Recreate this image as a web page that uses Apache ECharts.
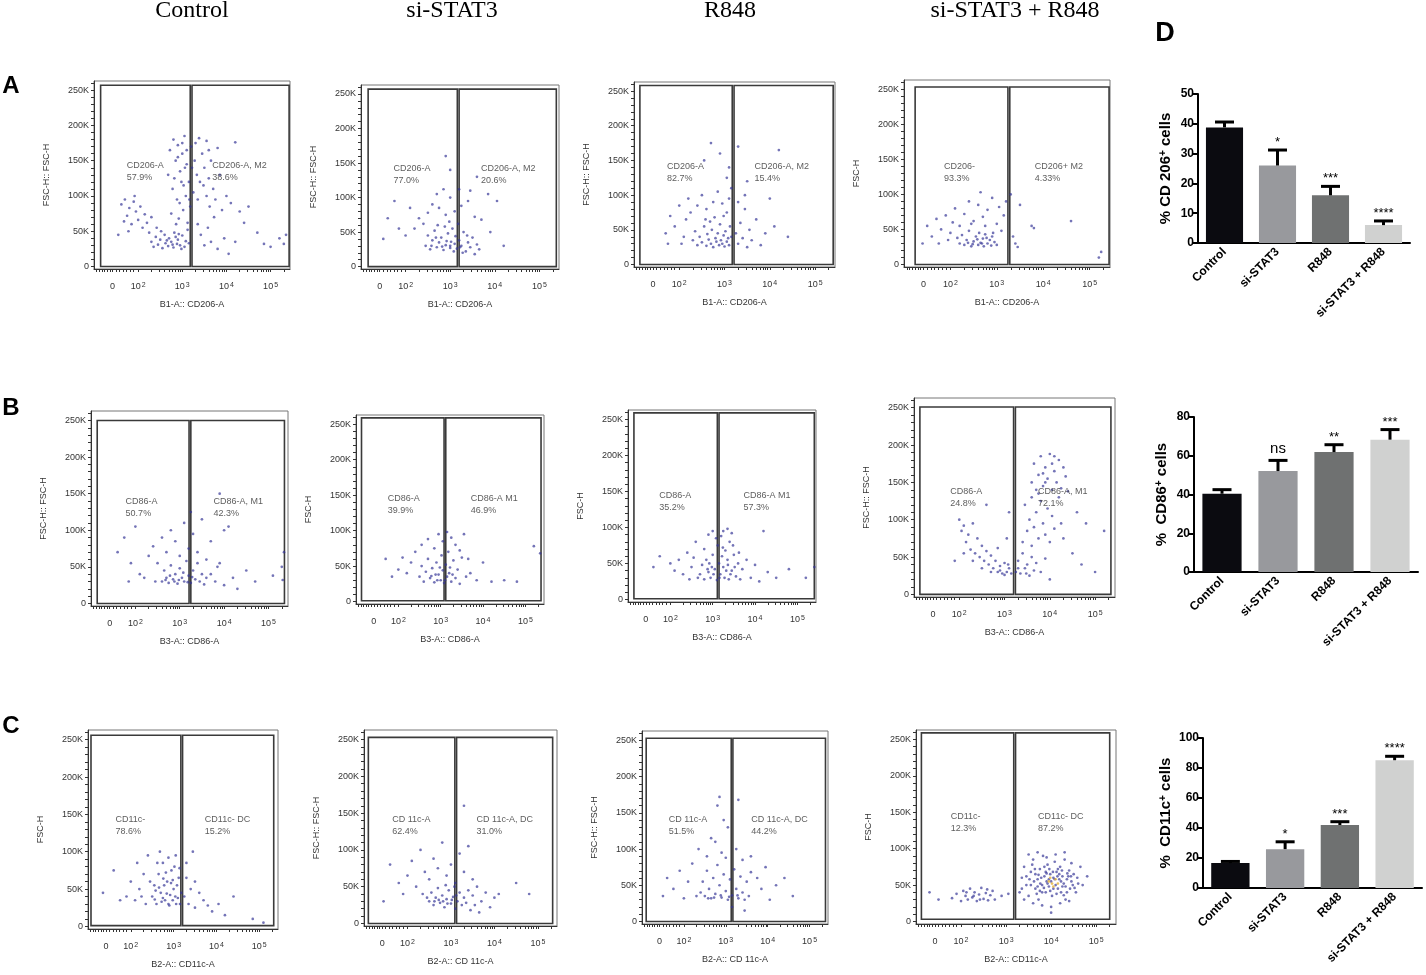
<!DOCTYPE html>
<html>
<head>
<meta charset="utf-8">
<script src="https://cdn.jsdelivr.net/npm/echarts@6/dist/echarts.min.js"></script>
<style>
  html, body { margin: 0; padding: 0; background: #fff; }
  #chart { width: 1426px; height: 975px; }
</style>
</head>
<body>
<div id="chart"></div>
<script>
// treatment groups (column headers and bar categories)
const groups = ['Control', 'si-STAT3', 'R848', 'si-STAT3 + R848'];

// flow plot axes: x in display decades (0, 10^2 .. 10^5), y = FSC-H in K
const xTickVals = [1.42, 2, 3, 4, 5];
const xTickText = ['0', '10{s|2}', '10{s|3}', '10{s|4}', '10{s|5}'];
const yTickVals = [0, 50, 100, 150, 200, 250];
const yTickText = ['0', '50K', '100K', '150K', '200K', '250K'];

// events: [x decade, FSC-H K]
const ptsA1 = [[1.62,88],[1.7,95],[1.75,72],[1.8,83],[1.85,60],[1.9,92],[1.95,78],[2.0,66],[2.05,85],[2.1,55],[2.15,74],[2.2,62],[1.68,64],[1.78,50],[2.25,48],[1.55,45],[2.3,70],[1.92,100],
  [2.3,35],[2.35,28],[2.4,42],[2.45,31],[2.5,38],[2.55,26],[2.6,45],[2.62,33],[2.68,29],[2.7,40],[2.75,35],[2.8,27],[2.82,48],[2.88,32],[2.9,38],[2.95,30],[3.0,44],[3.05,28],[3.08,36],[3.12,52],[2.52,50],[2.42,55],[2.85,42],[2.98,25],[3.15,33],[2.65,37],[2.78,31],[2.92,46],
  [2.72,165],[2.8,180],[2.85,150],[2.9,172],[2.95,135],[3.0,160],[3.05,185],[3.1,145],[3.15,120],[3.2,170],[2.78,110],[2.88,95],[2.98,120],[3.08,100],[3.18,85],[2.75,75],[2.92,68],[3.02,80],[3.12,62],[3.22,140],[2.68,130],[2.82,125],[3.25,105],[3.0,175],[2.9,155],
  [3.3,175],[3.38,182],[3.45,160],[3.5,140],[3.55,178],[3.6,125],[3.65,150],[3.7,110],[3.75,95],[3.8,168],[3.85,130],[3.9,80],[4.0,100],[4.1,90],[4.2,176],[4.3,78],[3.35,60],[3.42,45],[3.5,30],[3.58,55],[3.65,35],[3.72,70],[3.8,25],[3.95,40],[4.05,18],[4.2,35],[3.4,120],[3.55,100],[3.62,85],[3.35,95],
  [4.5,85],[4.85,32],[5.0,28],[5.2,40],[5.3,32],[4.7,48],[5.35,45],[4.4,62],
  [3.03,115],[3.1,165],[2.86,60],[3.16,95],[3.28,150],[3.33,130],[3.48,115],[3.6,165],[2.94,90],[3.06,140]];
const ptsA2 = [[2.45,30],[2.5,45],[2.55,25],[2.6,38],[2.65,52],[2.7,28],[2.75,35],[2.8,42],[2.85,24],[2.9,31],[2.95,48],[3.0,27],[3.02,36],[3.05,55],[3.08,22],[3.1,33],[3.12,44],[3.15,26],[3.2,38],[3.25,30],[3.3,50],[3.35,22],[3.4,35],[3.45,28],[3.5,42],[3.55,18],[3.6,32],[3.65,25],[2.72,60],[2.88,58],[2.98,65],[3.18,62],[2.58,30],[2.82,29],[2.92,37],[3.0,30],[3.22,28],[2.68,42],[3.38,45],[3.28,20],
  [2.3,70],[2.5,78],[2.6,90],[2.75,85],[2.9,75],[3.0,100],[3.1,80],[3.25,88],[3.4,95],[3.55,72],[3.7,68],[3.85,105],[2.2,55],[2.4,62],[3.45,110],[4.05,95],[3.2,112],[2.85,112],
  [1.5,40],[1.6,70],[1.75,95],[1.85,55],[2.0,45],[2.1,85],[2.9,160],[3.0,140],[2.7,105],[3.6,130],[3.9,50],[4.2,30]];
const ptsA3 = [[2.3,35],[2.35,48],[2.4,28],[2.45,40],[2.5,32],[2.55,55],[2.6,27],[2.62,44],[2.65,36],[2.7,30],[2.72,50],[2.75,25],[2.8,38],[2.82,33],[2.85,45],[2.88,28],[2.9,58],[2.92,35],[2.95,30],[2.98,42],[3.0,26],[3.02,48],[3.05,33],[3.08,38],[3.1,28],[3.12,55],[3.15,40],[2.68,62],[2.78,68],[2.58,65],[2.98,70],[3.05,75],
  [1.7,45],[1.8,70],[1.9,55],[2.0,85],[2.1,40],[2.15,65],[2.2,95],[2.25,75],[2.4,85],[2.5,100],[2.6,80],[2.75,90],[2.85,105],[2.95,88],[3.1,95],[3.15,110],[1.75,30],[2.05,30],
  [3.25,45],[3.3,30],[3.35,60],[3.4,38],[3.45,80],[3.5,25],[3.55,50],[3.6,35],[3.7,65],[3.8,28],[3.9,45],[4.0,95],[4.1,55],[4.4,40],[3.3,90],[3.45,100],
  [2.55,150],[2.7,175],[2.9,160],[3.1,140],[3.3,170],[3.05,125],[3.5,120],[4.2,165]];
const ptsA4 = [[2.2,30],[2.25,42],[2.3,28],[2.35,35],[2.4,48],[2.45,26],[2.5,33],[2.55,40],[2.6,28],[2.62,45],[2.65,31],[2.7,37],[2.72,26],[2.75,43],[2.8,30],[2.85,35],[2.88,27],[2.9,40],[2.95,32],[3.0,28],[2.58,36],[2.68,30],[2.78,38],[2.48,29],[2.38,31],[2.92,45],
  [1.4,30],[1.5,55],[1.6,40],[1.7,65],[1.8,50],[1.9,70],[2.0,45],[2.05,60],[2.1,80],[2.2,55],[2.3,72],[2.4,90],[2.5,62],[2.6,85],[2.65,103],[2.7,68],[2.8,78],[2.9,95],[3.0,58],[3.05,82],[3.1,48],[3.15,70],[3.2,90],[2.45,58],[2.75,55],[1.95,35],[1.75,30],[2.15,38],
  [3.3,100],[3.35,40],[3.45,25],[3.5,85],[3.75,55],[3.8,52],[4.6,62],[5.25,18],[5.2,10],[3.4,30]];
const ptsB1 = [[2.6,30],[2.65,45],[2.7,35],[2.75,28],[2.8,52],[2.85,33],[2.9,40],[2.95,27],[3.0,48],[3.05,35],[3.1,30],[3.15,58],[3.2,38],[3.25,28],[3.3,45],[3.35,33],[3.4,55],[3.45,30],[3.5,40],[3.55,26],[3.6,35],[2.88,30],[2.98,32],[3.08,42],[3.18,29],[2.78,38],[2.68,32],[3.28,36],
  [2.3,65],[2.4,78],[2.5,55],[2.6,90],[2.7,70],[2.8,100],[2.9,85],[3.0,65],[3.1,110],[3.2,75],[3.3,95],[3.4,70],[3.5,115],[3.6,60],[3.7,85],[3.85,50],[4.0,100],[3.25,125],
  [1.6,70],[1.75,90],[1.9,55],[2.0,105],[2.1,40],[2.2,35],[1.85,30],[2.45,30],
  [3.7,40],[3.8,30],[3.9,55],[4.0,25],[4.2,35],[4.3,20],[4.5,45],[4.7,30],[5.35,70],[5.3,50],[5.32,32],[5.1,38],[3.9,150],[4.1,105]];
const ptsB2 = [[2.5,35],[2.55,50],[2.6,28],[2.65,42],[2.7,60],[2.75,33],[2.8,47],[2.85,27],[2.9,55],[2.95,38],[3.0,30],[3.02,65],[3.05,44],[3.08,26],[3.12,52],[3.15,35],[3.18,70],[3.2,40],[3.25,28],[3.3,58],[3.35,33],[3.4,45],[3.45,25],[3.5,62],[2.88,38],[2.98,48],[3.22,48],[3.1,30],[2.78,36],[2.92,30],[3.28,38],
  [2.3,55],[2.4,70],[2.55,80],[2.7,88],[2.85,75],[2.95,95],[3.05,85],[3.15,98],[3.25,90],[3.35,80],[3.45,72],[3.55,95],[3.65,60],[2.2,40],[2.1,62],
  [1.7,60],[1.85,35],[2.0,45],[3.7,40],[3.85,30],[4.0,55],[4.2,28],[4.5,30],[4.8,28],[5.2,78],[5.35,68],[3.6,35]];
const ptsB3 = [[2.7,35],[2.75,48],[2.8,28],[2.85,55],[2.9,38],[2.95,30],[3.0,62],[3.05,42],[3.1,27],[3.12,75],[3.15,50],[3.18,35],[3.2,88],[3.25,45],[3.28,30],[3.3,68],[3.35,55],[3.38,28],[3.4,80],[3.45,40],[3.5,62],[3.55,32],[3.6,50],[3.65,28],[3.7,42],[3.25,95],[3.35,98],[3.45,92],[3.08,85],[2.98,45],[3.22,60],[3.42,35],[3.32,40],[2.88,42],
  [2.1,40],[2.2,55],[2.3,35],[2.4,65],[2.5,45],[2.6,80],[2.65,30],[2.8,70],[2.9,90],[3.0,95],[2.45,28],[2.55,58],[1.6,45],[1.75,60],[2.0,50],
  [3.8,55],[3.9,30],[4.0,48],[4.1,25],[4.2,95],[4.3,38],[4.5,30],[4.8,42],[5.2,30],[5.4,45],
  [3.16,30],[3.24,72],[3.36,48],[3.48,75],[3.52,45],[3.62,65],[2.92,50],[3.02,35]];
const ptsB4 = [[2.0,100],[2.05,85],[2.1,92],[2.15,70],[2.2,80],[2.25,60],[2.3,95],[2.35,55],[2.4,75],[2.45,50],[2.5,65],[2.55,45],[2.6,58],[2.65,40],[2.7,52],[2.75,35],[2.8,45],[2.85,30],[2.9,38],[2.95,28],[3.0,42],[3.05,30],[3.1,35],[3.15,28],[2.1,55],[2.3,45],[2.5,35],[2.7,30],[2.9,32],[3.0,26],[3.08,40],[2.6,120],[3.1,110],[3.05,75],[2.85,62],[1.9,45],
  [3.25,30],[3.3,45],[3.35,28],[3.4,55],[3.45,35],[3.5,40],[3.55,25],[3.6,50],[3.65,32],[3.7,42],[3.8,30],[3.9,48],[4.0,20],[3.3,35],[3.48,28],
  [3.4,70],[3.5,85],[3.55,100],[3.6,65],[3.65,90],[3.7,110],[3.75,75],[3.8,125],[3.85,95],[3.9,80],[3.95,115],[4.0,70],[4.05,105],[4.1,88],[4.2,130],[4.25,95],[3.45,120],[3.6,130],[4.3,75],
  [3.6,150],[3.65,175],[3.7,140],[3.75,160],[3.8,185],[3.85,145],[3.9,170],[3.95,155],[4.0,188],[4.05,140],[4.1,165],[4.15,150],[4.2,180],[4.25,142],[4.3,170],[4.35,158],[4.4,138],[3.9,150],[4.05,175],[3.75,135],[4.1,185],[3.85,162],
  [4.6,110],[4.8,95],[5.0,30],[5.2,85],[4.5,55],[4.7,40]];
const ptsC1 = [[2.5,40],[2.55,55],[2.6,30],[2.65,70],[2.7,45],[2.75,85],[2.8,35],[2.85,60],[2.9,28],[2.95,75],[3.0,50],[3.05,95],[3.1,38],[3.12,65],[3.15,30],[2.68,100],[2.88,92],[3.02,80],[2.78,55],[2.92,42],[3.08,55],[2.58,48],[2.72,33],[2.98,35],[2.82,72],[3.18,45],[2.62,85],[2.98,62],[2.88,30],[2.75,38],
  [1.9,40],[2.0,60],[2.1,35],[2.15,85],[2.2,50],[2.3,70],[2.35,30],[2.4,95],[2.45,60],[2.25,40],[1.35,45],[1.6,75],[1.75,35],
  [3.25,40],[3.3,65],[3.35,30],[3.4,50],[3.45,100],[3.5,25],[3.6,45],[3.7,35],[3.8,28],[3.9,20],[4.05,30],[4.2,15],[3.3,85],[3.5,60],[4.4,40],[4.85,10],[5.1,5],
  [2.66,52],[2.84,44],[2.94,58],[3.04,40],[3.14,78],[2.56,36],[2.76,64],[3.06,30]];
const ptsC2 = [[2.5,30],[2.55,42],[2.6,25],[2.65,35],[2.7,48],[2.75,28],[2.8,38],[2.85,22],[2.9,33],[2.95,45],[3.0,27],[3.05,36],[3.1,20],[3.15,30],[3.2,42],[3.25,25],[3.3,35],[2.62,30],[2.72,32],[2.82,30],[2.92,27],[3.02,32],[3.12,38],[2.45,35],[2.88,52],[3.08,50],
  [2.0,65],[2.1,85],[2.2,50],[2.3,100],[2.4,70],[2.5,60],[2.6,88],[2.7,75],[2.8,110],[2.9,65],[3.0,80],[3.1,55],[3.2,95],[3.3,70],[3.4,105],[3.5,60],[1.8,55],[1.9,40],[1.6,80],[1.45,30],[2.35,40],[3.3,160],
  [3.35,28],[3.4,45],[3.45,18],[3.5,38],[3.55,25],[3.6,50],[3.7,30],[3.8,42],[3.9,22],[4.0,35],[4.1,40],[4.5,55],[4.8,40],[3.65,15]];
const ptsC3 = [[2.4,40],[2.45,55],[2.5,35],[2.55,70],[2.6,45],[2.65,32],[2.7,60],[2.75,38],[2.8,78],[2.85,50],[2.9,33],[2.95,65],[3.0,42],[3.05,30],[3.1,58],[3.15,36],[3.2,72],[3.25,45],[3.3,32],[3.35,62],[3.4,40],[3.45,30],[3.5,55],[3.55,35],[3.6,68],[2.72,33],[2.88,36],[3.08,34],[3.28,36],[2.58,32],
  [1.5,35],[1.6,60],[1.75,45],[1.9,70],[2.0,32],[2.1,55],[2.2,80],[2.3,35],[2.35,100],[2.55,90],[2.75,110],[2.9,95],[3.0,88],[3.25,100],[3.4,85],[3.6,90],[3.75,60],[3.85,45],[3.95,75],[4.05,30],[4.2,50],[4.4,60],[4.6,35],[2.8,160],[2.85,172],[3.3,168],[3.05,130],[2.95,140],[2.65,115],[3.15,20],[3.45,15]];
const ptsC4 = [[1.8,32],[1.9,38],[2.0,28],[2.05,42],[2.1,35],[2.15,30],[2.2,45],[2.25,33],[2.3,40],[2.35,28],[2.4,37],[2.45,46],[2.5,31],[2.55,39],[2.6,29],[2.65,36],[2.7,42],[2.75,30],[2.12,40],[2.28,35],[2.42,30],[2.58,44],[1.3,40],[1.5,30],[2.9,35],[3.05,38],
  [3.3,40],[3.35,60],[3.4,75],[3.45,50],[3.5,35],[3.55,68],[3.6,85],[3.65,45],[3.7,58],[3.72,30],[3.75,72],[3.8,50],[3.82,90],[3.85,62],[3.88,40],[3.9,55],[3.92,78],[3.95,48],[3.98,65],[4.0,55],[4.02,35],[4.05,60],[4.08,82],[4.1,50],[4.12,68],[4.15,45],[4.18,58],[4.2,75],[4.22,40],[4.25,62],[4.28,52],[4.3,85],[4.32,30],[4.35,58],[4.4,70],[4.42,45],[4.45,55],[4.5,65],[4.55,40],[4.6,52],[4.65,75],
  [3.4,30],[3.5,92],[3.6,25],[3.7,95],[3.8,22],[3.9,88],[4.0,20],[4.1,92],[4.2,25],[4.3,95],[4.4,28],[3.55,50],[3.65,65],[3.75,42],[3.85,75],[3.95,58],[4.05,45],[4.15,72],[4.25,48],[4.35,40],[4.45,80],[3.62,55],[3.78,60],[3.92,52],[4.08,58],[4.22,55],[4.38,62],[3.98,42],[4.12,38],[3.88,68],[4.18,65],[3.7,48],[4.48,50],[3.45,62],[4.58,60],[3.35,45],[4.0,12],[4.7,50],[4.8,62],
  [3.58,78],[3.68,38],[3.76,52],[3.84,46],[3.9,66],[3.96,72],[4.04,68],[4.14,62],[4.24,70],[4.32,48],[4.36,66],[4.44,62],[3.52,58],[3.64,72],[3.72,64],[3.8,40],[4.28,36],[4.52,46]];
const hotC4 = [[3.95,55],[4.02,52],[4.1,58],[4.05,48],[3.98,60],[4.15,52]];

const flowPoints = [ptsA1, ptsA2, ptsA3, ptsA4, ptsB1, ptsB2, ptsB3, ptsB4, ptsC1, ptsC2, ptsC3, ptsC4];
const hotPoints = [[], [], [], [], [], [], [], [], [], [], [], hotC4];

// gates: [left edge, split, right edge, top K, bottom K]
const gates = [
  [1.15, 3.20, 5.42, 257, 0], [1.16, 3.18, 5.38, 257, 0], [1.13, 3.19, 5.40, 258, 0], [1.24, 3.26, 5.42, 253, 0],
  [1.14, 3.23, 5.36, 250, 0], [1.13, 3.10, 5.37, 259, 1], [1.14, 3.13, 5.40, 259, 1], [1.13, 3.22, 5.35, 251, 0],
  [1.07, 3.19, 5.34, 256, 1], [1.10, 3.11, 5.34, 253, 0], [1.10, 3.15, 5.38, 253, 0], [1.12, 3.19, 5.30, 259, 3]
];
const gateLeftName = ['CD206-A', 'CD206-A', 'CD206-A', 'CD206-', 'CD86-A', 'CD86-A', 'CD86-A', 'CD86-A', 'CD11c-', 'CD 11c-A', 'CD 11c-A', 'CD11c-'];
const gateLeftPct = ['57.9%', '77.0%', '82.7%', '93.3%', '50.7%', '39.9%', '35.2%', '24.8%', '78.6%', '62.4%', '51.5%', '12.3%'];
const gateRightName = ['CD206-A, M2', 'CD206-A, M2', 'CD206-A, M2', 'CD206+ M2', 'CD86-A, M1', 'CD86-A M1', 'CD86-A M1', 'CD86-A, M1', 'CD11c- DC', 'CD 11c-A, DC', 'CD 11c-A, DC', 'CD11c- DC'];
const gateRightPct = ['38.6%', '20.6%', '15.4%', '4.33%', '42.3%', '46.9%', '57.3%', '72.1%', '15.2%', '31.0%', '44.2%', '87.2%'];
// [left label x, right label x, label y] in axis units
const gateTextPos = [
  [1.74, 3.68, 134], [1.73, 3.69, 133], [1.73, 3.66, 133], [1.86, 3.82, 131],
  [1.78, 3.76, 131], [1.75, 3.71, 137], [1.74, 3.73, 136], [1.80, 3.74, 130],
  [1.64, 3.73, 135], [1.65, 3.59, 133], [1.64, 3.61, 132], [1.77, 3.71, 136]
];
const xNames = ['B1-A:: CD206-A', 'B1-A:: CD206-A', 'B1-A:: CD206-A', 'B1-A:: CD206-A',
  'B3-A:: CD86-A', 'B3-A:: CD86-A', 'B3-A:: CD86-A', 'B3-A:: CD86-A',
  'B2-A:: CD11c-A', 'B2-A:: CD 11c-A', 'B2-A:: CD 11c-A', 'B2-A:: CD11c-A'];
const yNames = ['FSC-H:: FSC-H', 'FSC-H:: FSC-H', 'FSC-H:: FSC-H', 'FSC-H',
  'FSC-H:: FSC-H', 'FSC-H', 'FSC-H', 'FSC-H:: FSC-H',
  'FSC-H', 'FSC-H:: FSC-H', 'FSC-H:: FSC-H', 'FSC-H'];

// panel D bar charts
const cd206Mean = [38.8, 26.0, 16.0, 6.0];
const cd206Err = [1.8, 5.2, 3.0, 1.4];
const cd206Sig = ['', '*', '***', '****'];
const cd86Mean = [40.4, 52.1, 61.9, 68.3];
const cd86Err = [2.1, 5.5, 3.8, 5.2];
const cd86Sig = ['', 'ns', '**', '***'];
const cd11cMean = [16.6, 25.9, 42.0, 85.2];
const cd11cErr = [1.1, 4.9, 2.2, 2.6];
const cd11cSig = ['', '*', '***', '****'];

// layout (pixels): [left, top, right, bottom]
const flowFrames = [
  [94, 81, 290, 269], [361, 85, 559, 269], [634, 82, 835, 267], [904, 80, 1110, 267],
  [91, 411, 288, 606], [356, 415, 544, 604], [628, 410, 816, 602], [914, 398, 1115, 597],
  [88, 730, 278, 929], [364, 730, 557, 926], [642, 731, 828, 924], [916, 730, 1116, 924]
];
const barFrames = [[1198, 94, 1410, 243], [1194, 417, 1418, 572], [1203, 738, 1422, 888]];
const barColors = ['#0b0b10', '#98999d', '#6f7171', '#d0d1d0'];

const FONT = 'Liberation Sans, Arial, sans-serif';
const SERIF = 'Liberation Serif, Times New Roman, serif';
const X_MIN = 1, X_MAX = 5.44, Y_MIN = -3.5, Y_MAX = 263;

// tick marks: labelled decades plus logicle minor ticks
const xTicks = xTickVals.concat([1.06, 1.12, 1.18, 1.24, 1.30, 1.36, 1.5, 1.58, 1.66, 1.74, 1.82, 1.9]);
for (let d = 2; d <= 4; d++) {
  for (let k = 2; k <= 9; k++) xTicks.push(d + Math.log10(k));
}
xTicks.push(5 + Math.log10(2));
const yTicks = [];
for (let v = 0; v <= 260; v += 10) yTicks.push(v);

const chart = echarts.init(document.getElementById('chart'));
const grid = [], xAxis = [], yAxis = [], series = [];

flowFrames.forEach((f, i) => {
  grid.push({
    left: f[0], top: f[1], width: f[2] - f[0], height: f[3] - f[1],
    show: true, borderColor: '#777', borderWidth: 1,
  });
  const xi = xAxis.length;
  const yi = yAxis.length;
  xAxis.push({
    gridIndex: i, type: 'value', min: X_MIN, max: X_MAX,
    name: xNames[i], nameLocation: 'middle', nameGap: 31,
    nameTextStyle: { fontFamily: FONT, fontSize: 9, color: '#333' },
    splitLine: { show: false },
    axisLine: { onZero: false, lineStyle: { color: '#333', width: 1 } },
    axisTick: { customValues: xTicks, length: 3, lineStyle: { color: '#333' } },
    axisLabel: {
      customValues: xTickVals, margin: 13, fontFamily: FONT, fontSize: 9, color: '#333',
      formatter: (v) => xTickText[xTickVals.findIndex((t) => Math.abs(t - v) < 1e-6)] || '',
      rich: { s: { fontFamily: FONT, fontSize: 7, color: '#333', verticalAlign: 'top', padding: [0, 0, 0, 1] } },
    },
  });
  yAxis.push({
    gridIndex: i, type: 'value', min: Y_MIN, max: Y_MAX,
    name: yNames[i], nameLocation: 'middle', nameGap: 43,
    nameTextStyle: { fontFamily: FONT, fontSize: 9, color: '#333' },
    splitLine: { show: false },
    axisLine: { show: true, onZero: false, lineStyle: { color: '#333', width: 1 } },
    axisTick: { show: true, customValues: yTicks, length: 3, lineStyle: { color: '#333' } },
    axisLabel: {
      customValues: yTickVals, margin: 5, fontFamily: FONT, fontSize: 9, color: '#333',
      formatter: (v) => yTickText[yTickVals.indexOf(Math.round(v))] || '',
    },
  });

  const g = gates[i];
  series.push({
    type: 'scatter', xAxisIndex: xi, yAxisIndex: yi, silent: true,
    symbolSize: 2.7, itemStyle: { color: 'rgba(52,52,150,0.85)' },
    data: flowPoints[i],
    markArea: {
      silent: true,
      itemStyle: { color: 'rgba(0,0,0,0)', borderColor: '#3a3a3a', borderWidth: 1.6 },
      data: [
        [{ coord: [g[0], g[3]] }, { coord: [g[1] - 0.02, g[4]] }],
        [{ coord: [g[1] + 0.02, g[3]] }, { coord: [g[2], g[4]] }],
      ],
    },
  });
  if (hotPoints[i].length) {
    series.push({
      type: 'scatter', xAxisIndex: xi, yAxisIndex: yi, silent: true,
      symbolSize: 2.7, itemStyle: { color: '#e3b33a' }, data: hotPoints[i],
    });
  }
  const p = gateTextPos[i];
  series.push({
    type: 'scatter', xAxisIndex: xi, yAxisIndex: yi, silent: true,
    symbolSize: 0.001,
    data: [
      [p[0], p[2], gateLeftName[i] + '\n' + gateLeftPct[i]],
      [p[1], p[2], gateRightName[i] + '\n' + gateRightPct[i]],
    ],
    label: {
      show: true, position: 'right', distance: 0, formatter: (d) => d.data[2],
      fontFamily: FONT, fontSize: 9, lineHeight: 12, color: '#333', align: 'left',
    },
  });
});

const barSets = [
  { mean: cd206Mean, err: cd206Err, sig: cd206Sig, max: 50, step: 10, name: '% CD 206{s|+} cells' },
  { mean: cd86Mean, err: cd86Err, sig: cd86Sig, max: 80, step: 20, name: '%  CD86{s|+} cells' },
  { mean: cd11cMean, err: cd11cErr, sig: cd11cSig, max: 100, step: 20, name: '%  CD11c{s|+} cells' },
];

barSets.forEach((b, j) => {
  const f = barFrames[j];
  const gi = grid.length;
  grid.push({ left: f[0], top: f[1], width: f[2] - f[0], height: f[3] - f[1] });
  const xi = xAxis.length;
  const yi = yAxis.length;
  xAxis.push({
    gridIndex: gi, type: 'category', data: groups,
    axisLine: { lineStyle: { color: '#000', width: 2 } },
    axisTick: { alignWithLabel: true, length: 5, lineStyle: { color: '#000', width: 2 } },
    axisLabel: { interval: 0, rotate: 45, margin: 7, fontFamily: FONT, fontSize: 12, fontWeight: 'bold', color: '#000' },
  });
  yAxis.push({
    gridIndex: gi, type: 'value', min: 0, max: b.max, interval: b.step,
    name: b.name, nameLocation: 'middle', nameGap: j === 2 ? 30 : 25,
    nameTextStyle: {
      fontFamily: FONT, fontSize: 15, fontWeight: 'bold', color: '#000',
      rich: { s: { fontFamily: FONT, fontSize: 10, fontWeight: 'bold', color: '#000', verticalAlign: 'top' } },
    },
    splitLine: { show: false },
    axisLine: { show: true, lineStyle: { color: '#000', width: 2 } },
    axisTick: { show: true, length: 5, lineStyle: { color: '#000', width: 2 } },
    axisLabel: { margin: 4, fontFamily: FONT, fontSize: 12, fontWeight: 'bold', color: '#000' },
  });
  series.push({
    type: 'bar', xAxisIndex: xi, yAxisIndex: yi, silent: true, barCategoryGap: '30%',
    data: b.mean.map((v, k) => ({ value: v, itemStyle: { color: barColors[k] } })),
  });
  series.push({
    type: 'custom', xAxisIndex: xi, yAxisIndex: yi, silent: true, z: 5,
    data: b.mean.map((v, k) => [k, v, b.err[k]]),
    encode: { x: 0, y: 1 },
    renderItem: (params, api) => {
      const k = api.value(0);
      const base = api.coord([k, api.value(1)]);
      const top = api.coord([k, api.value(1) + api.value(2)]);
      const s = b.sig[params.dataIndex];
      const kids = [
        { type: 'line', shape: { x1: base[0], y1: base[1], x2: base[0], y2: top[1] }, style: { stroke: '#000', lineWidth: 3 } },
        { type: 'line', shape: { x1: top[0] - 9.5, y1: top[1], x2: top[0] + 9.5, y2: top[1] }, style: { stroke: '#000', lineWidth: 3 } },
      ];
      if (s) {
        kids.push({
          type: 'text', x: top[0], y: top[1] - (s === 'ns' ? 4 : 1),
          style: {
            text: s, align: 'center', verticalAlign: 'bottom', fill: '#000',
            fontFamily: FONT, fontSize: s === 'ns' ? 15 : 13,
          },
        });
      }
      return { type: 'group', children: kids };
    },
  });
});

const graphic = [
  { type: 'text', x: 192, y: 11, style: { text: groups[0], font: '24px ' + SERIF, fill: '#000', align: 'center', verticalAlign: 'middle' } },
  { type: 'text', x: 452, y: 11, style: { text: groups[1], font: '24px ' + SERIF, fill: '#000', align: 'center', verticalAlign: 'middle' } },
  { type: 'text', x: 730, y: 11, style: { text: groups[2], font: '24px ' + SERIF, fill: '#000', align: 'center', verticalAlign: 'middle' } },
  { type: 'text', x: 1015, y: 11, style: { text: groups[3], font: '24px ' + SERIF, fill: '#000', align: 'center', verticalAlign: 'middle' } },
  { type: 'text', x: 11, y: 86, style: { text: 'A', font: 'bold 24px ' + FONT, fill: '#000', align: 'center', verticalAlign: 'middle' } },
  { type: 'text', x: 11, y: 408, style: { text: 'B', font: 'bold 24px ' + FONT, fill: '#000', align: 'center', verticalAlign: 'middle' } },
  { type: 'text', x: 11, y: 726, style: { text: 'C', font: 'bold 24px ' + FONT, fill: '#000', align: 'center', verticalAlign: 'middle' } },
  { type: 'text', x: 1165, y: 34, style: { text: 'D', font: 'bold 27px ' + FONT, fill: '#000', align: 'center', verticalAlign: 'middle' } },
];

chart.setOption({
  animation: false,
  backgroundColor: '#fff',
  grid, xAxis, yAxis, series, graphic,
});
</script>
</body>
</html>
